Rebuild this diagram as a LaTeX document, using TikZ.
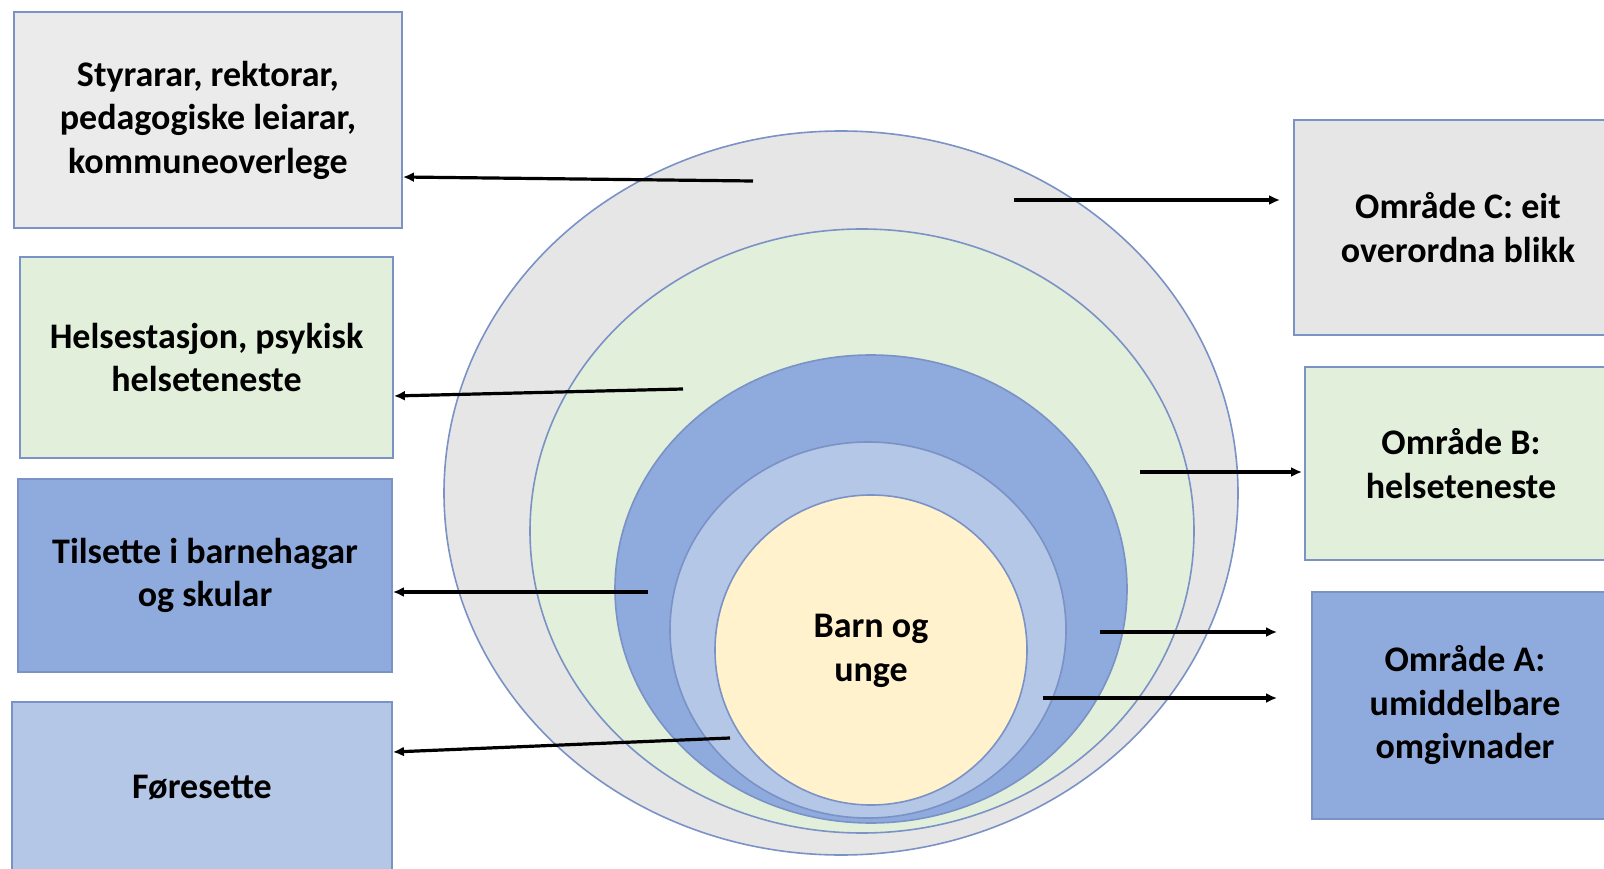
\documentclass[tikz,border=0pt]{standalone}
\usepackage{fontspec}
\setmainfont{Carlito}
\usetikzlibrary{arrows.meta}
\definecolor{ringgray}{HTML}{E7E6E6}
\definecolor{ringgreen}{HTML}{E2EFDA}
\definecolor{ringblue}{HTML}{8FAADC}
\definecolor{ringlight}{HTML}{B4C7E7}
\definecolor{ringyellow}{HTML}{FFF2CC}
\definecolor{edgeblue}{HTML}{7A92C6}
\begin{document}
\begin{tikzpicture}[x=1pt,y=-1pt,
  box/.style={draw=edgeblue,line width=1.8pt,align=center,inner sep=0pt,
    font=\bfseries\fontsize{36}{43.5}\selectfont},
  ring/.style={draw=edgeblue,line width=1.6pt},
  arr/.style={line width=3.2pt,-{Latex[length=11pt,width=10pt]}}]
\useasboundingbox (0,0) rectangle (1604,869);
\clip (0,0) rectangle (1604,869);

% the rings
\filldraw[ring,fill=ringgray] (841,493) ellipse [x radius=397,y radius=362];
\filldraw[ring,fill=ringgreen] (862,531) ellipse [x radius=332,y radius=302];
\filldraw[ring,fill=ringblue] (871,589) ellipse [x radius=256,y radius=234];
\filldraw[ring,fill=ringlight] (868,630) ellipse [x radius=198,y radius=188];
\filldraw[ring,fill=ringyellow] (871,650) ellipse [x radius=156,y radius=155];
\node[align=center,font=\bfseries\fontsize{36}{43.5}\selectfont] (barn) at (871,651) {Barn og\\unge};

% left boxes
\node[box,fill=ringgray!80!white,minimum width=388pt,minimum height=216pt] (styr) at (208,120) {Styrarar, rektorar,\\pedagogiske leiarar,\\kommuneoverlege};
\node[box,fill=ringgreen,minimum width=373pt,minimum height=201pt] (helse) at (206.5,357.5) {Helsestasjon, psykisk\\helseteneste};
\node[box,fill=ringblue,minimum width=374pt,minimum height=193pt] (tils) at (205,575.5) {Tilsette i barnehagar\\og skular};
\node[box,fill=ringlight,minimum width=380pt,minimum height=170pt] (fore) at (202,787) {Føresette};

% right boxes
\node[box,fill=ringgray,minimum width=328pt,minimum height=215pt] (omrc) at (1458,227.5) {Område C: eit\\overordna blikk};
\node[box,fill=ringgreen,minimum width=312pt,minimum height=193pt] (omrb) at (1461,463.5) {Område B:\\helseteneste};
\node[box,fill=ringblue,minimum width=306pt,minimum height=227pt] (omra) at (1465,705.5) {Område A:\\umiddelbare\\omgivnader};

% arrows
\coordinate (p1) at (753,181);
\coordinate (p2) at (683,389);
\coordinate (p3) at (648,592);
\coordinate (p4) at (730,738);
\coordinate (p5) at (1014,200);
\coordinate (p6) at (1140,472);
\coordinate (p7) at (1100,632);
\coordinate (p8) at (1043,698);
\draw[arr] (p1) -- ([yshift=-57pt]styr.east);
\draw[arr] (p2) -- ([yshift=-38.5pt]helse.east);
\draw[arr] (p3) -- ([yshift=-16.5pt]tils.east);
\draw[arr] (p4) -- ([yshift=35pt]fore.east);
\draw[arr,shorten >=13pt] (p5) -- (p5 -| omrc.west);
\draw[arr,shorten >=2pt] (p6) -- (p6 -| omrb.west);
\draw[arr,shorten >=34pt] (p7) -- (p7 -| omra.west);
\draw[arr,shorten >=34pt] (p8) -- (p8 -| omra.west);
\end{tikzpicture}
\end{document}
